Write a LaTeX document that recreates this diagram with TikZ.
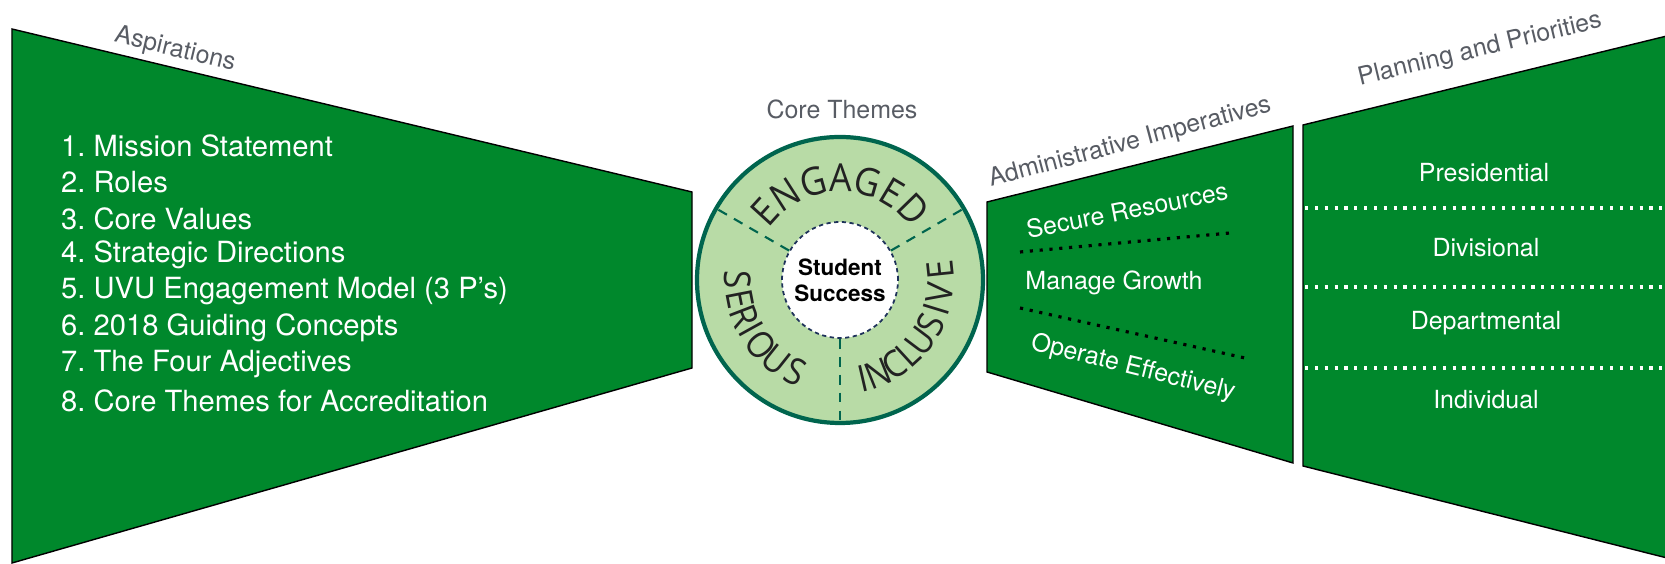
\documentclass[tikz,border=0pt]{standalone}
\usepackage{fontspec}
\setmainfont{TeX Gyre Heros}
\newfontfamily\ringfont[FakeStretch=0.92]{Open Sans}
\newfontfamily\ringfontin[FakeStretch=0.9]{Open Sans}
\usepackage{tikz}
\usetikzlibrary{positioning,calc,decorations.text}

\definecolor{panelgreen}{RGB}{0,136,44}
\definecolor{ringfill}{RGB}{184,219,166}
\definecolor{ringline}{RGB}{0,101,78}
\definecolor{captiongray}{RGB}{88,92,100}
\definecolor{corenavy}{RGB}{30,50,90}
\definecolor{ringtext}{RGB}{34,34,34}

\begin{document}
\begin{tikzpicture}[
  panel/.style={draw=black,line width=0.4pt,fill=panelgreen},
  caption/.style={text=captiongray,inner sep=0pt,font=\fontsize{7.1pt}{8.5pt}\selectfont},
  listitem/.style={text=white,inner sep=0pt,anchor=west,font=\fontsize{8.3pt}{10pt}\selectfont},
  paneltext/.style={text=white,inner sep=0pt,font=\fontsize{7.1pt}{8.5pt}\selectfont},
  ringletter/.style={text=ringtext,inner sep=0pt,font=\ringfontin\fontsize{10.5pt}{12pt}\selectfont},
  whitedots/.style={draw=white,line width=0.9pt,dash pattern=on 0.9pt off 1.9pt},
  blackdots/.style={draw=black,line width=0.9pt,dash pattern=on 0.9pt off 1.9pt},
  divider/.style={draw=ringline,line width=0.6pt,dash pattern=on 2.8pt off 2.3pt}
]
\useasboundingbox (0,0) rectangle (16.65,-5.64);

\draw [panel] (0.12,-0.29) -- (6.92,-1.92) -- (6.92,-3.68) -- (0.12,-5.63) -- cycle;
\node[caption,rotate=-13.5] (aspirations) at (1.75,-0.50) {Aspirations};
\node[listitem] (item1) at (0.605,-1.455) {1.\ Mission Statement};
\node[listitem] (item2) at (0.605,-1.820) {2.\ Roles};
\node[listitem] (item3) at (0.605,-2.185) {3.\ Core Values};
\node[listitem] (item4) at (0.605,-2.550) {4.\ Strategic Directions};
\node[listitem] (item5) at (0.605,-2.915) {5.\ UVU Engagement Model (3 P’s)};
\node[listitem] (item6) at (0.605,-3.280) {6.\ 2018 Guiding Concepts};
\node[listitem] (item7) at (0.605,-3.645) {7.\ The Four Adjectives};
\node[listitem] (item8) at (0.605,-4.010) {8.\ Core Themes for Accreditation};

\node[caption] (corethemes) at (8.42,-1.09) {Core Themes};
\node[circle,draw=ringline,line width=1.2pt,fill=ringfill,minimum size=2.86cm,inner sep=0pt] (ring) at (8.40,-2.80) {};
\node[circle,draw=corenavy,line width=0.5pt,dash pattern=on 1.2pt off 1pt,fill=white,minimum size=1.16cm,inner sep=0pt,align=center,font=\bfseries\fontsize{6.4pt}{7.3pt}\selectfont] (success) at (ring.center) {Student\\Success};
\draw [divider] (success.30) -- (ring.30);
\draw [divider] (success.150) -- (ring.150);
\draw [divider] (success.270) -- (ring.270);
\path [decorate,decoration={text along path,text align=center,text={|\color{ringtext}\ringfont\fontsize{11pt}{13pt}\selectfont|ENGAGED}}] ($(ring.center)+(165:0.88)$) arc[start angle=165,end angle=15,radius=0.88];

\node[ringletter,rotate=13] (inc1) at ($(ring.center)+(-77:1.01)$) {I};
\node[ringletter,rotate=22] (inc2) at ($(ring.center)+(-68:1.01)$) {N};
\node[ringletter,rotate=32.5] (inc3) at ($(ring.center)+(-57.5:1.01)$) {C};
\node[ringletter,rotate=42.5] (inc4) at ($(ring.center)+(-47.5:1.01)$) {L};
\node[ringletter,rotate=53] (inc5) at ($(ring.center)+(-37:1.01)$) {U};
\node[ringletter,rotate=64] (inc6) at ($(ring.center)+(-26:1.01)$) {S};
\node[ringletter,rotate=73] (inc7) at ($(ring.center)+(-17:1.01)$) {I};
\node[ringletter,rotate=82.5] (inc8) at ($(ring.center)+(-7.5:1.01)$) {V};
\node[ringletter,rotate=96] (inc9) at ($(ring.center)+(6:1.01)$) {E};

\node[ringletter,rotate=270] (ser1) at ($(ring.center)+(180:1.02)$) {S};
\node[ringletter,rotate=281] (ser2) at ($(ring.center)+(191:1.02)$) {E};
\node[ringletter,rotate=291] (ser3) at ($(ring.center)+(201:1.02)$) {R};
\node[ringletter,rotate=299] (ser4) at ($(ring.center)+(209:1.02)$) {I};
\node[ringletter,rotate=309.5] (ser5) at ($(ring.center)+(219.5:1.02)$) {O};
\node[ringletter,rotate=321.5] (ser6) at ($(ring.center)+(231.5:1.02)$) {U};
\node[ringletter,rotate=334] (ser7) at ($(ring.center)+(244:1.02)$) {S};

\draw [panel] (9.87,-2.02) -- (12.93,-1.26) -- (12.93,-4.63) -- (9.87,-3.72) -- cycle;
\node[caption,rotate=15] (imperatives) at (11.30,-1.43) {Administrative Imperatives};
\node[paneltext,rotate=11] (secure) at (11.27,-2.10) {Secure Resources};
\draw [blackdots] (10.20,-2.52) -- (12.30,-2.33);
\node[paneltext] (growth) at (11.14,-2.83) {Manage Growth};
\draw [blackdots] (10.20,-3.08) -- (12.45,-3.58);
\node[paneltext,rotate=-14] (operate) at (11.33,-3.68) {Operate Effectively};

\draw [panel] (13.03,-1.25) -- (16.75,-0.34) -- (16.75,-5.60) -- (13.03,-4.66) -- cycle;
\node[caption,rotate=13.5] (planning) at (14.80,-0.50) {Planning and Priorities};
\node[paneltext] (presidential) at (14.84,-1.73) {Presidential};
\draw [whitedots] (13.05,-2.08) -- (16.65,-2.08);
\node[paneltext] (divisional) at (14.86,-2.48) {Divisional};
\draw [whitedots] (13.05,-2.87) -- (16.65,-2.87);
\node[paneltext] (departmental) at (14.86,-3.23) {Departmental};
\draw [whitedots] (13.05,-3.68) -- (16.65,-3.68);
\node[paneltext] (individual) at (14.86,-4.00) {Individual};
\end{tikzpicture}
\end{document}
